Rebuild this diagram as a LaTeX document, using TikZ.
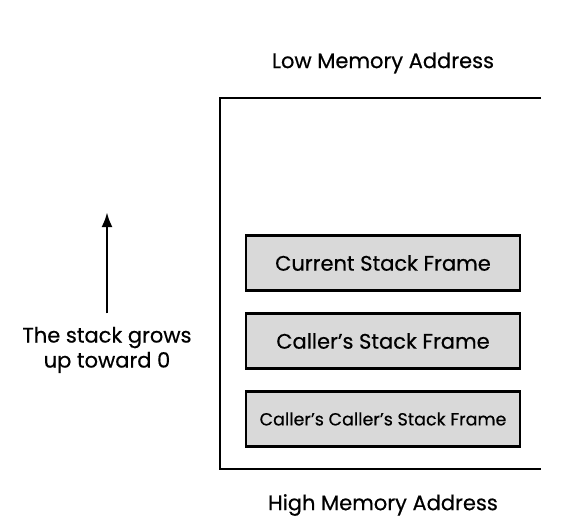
\documentclass[tikz,border=0pt]{standalone}
\usepackage{fontspec}
\setmainfont{Poppins}[FakeBold=0.5]
\usetikzlibrary{arrows.meta,positioning}

\begin{document}
\begin{tikzpicture}[
    x=1pt, y=-1pt,
    node distance=78pt,
    >={Latex[length=15pt,width=11pt]},
    font=\fontsize{21}{25}\selectfont,
    frame/.style={
		rectangle,
		draw=black,
		line width=2.4pt,
		fill=gray!30,
		text centered,
		minimum width=274pt,
		minimum height=55pt
	},
	note/.style={
		align=center
	}
  ]
  \useasboundingbox (0,0) rectangle (573,525);
    % We start by placing the frames

  \node [frame] (frame1) at (383,263) {Current Stack Frame};
  \node [frame, below of=frame1] (frame2) {Caller's Stack Frame};
  \node [frame, below of=frame2, font=\fontsize{17.5}{21}\selectfont] (frame3) {Caller's Caller's Stack Frame};

  % memory region, open on the right
  \coordinate (memTR) at (541,98);
  \coordinate (memTL) at (220,98);
  \coordinate (memBL) at (220,469);
  \coordinate (memBR) at (541,469);
  \draw [line width=2.6pt] (memTR) -- (memTL) -- (memBL) -- (memBR);

  \node [note] (low) at (383,63) {Low Memory Address};
  \node [note] (high) at (383,505) {High Memory Address};

  % growth direction
  \node [note] (growth) at (107,350) {The stack grows\\up toward 0};
  \coordinate (tip) at (107,212);
  \draw [->, line width=2.8pt, shorten <=10pt] (growth) -- (tip);

\end{tikzpicture}
\end{document}
